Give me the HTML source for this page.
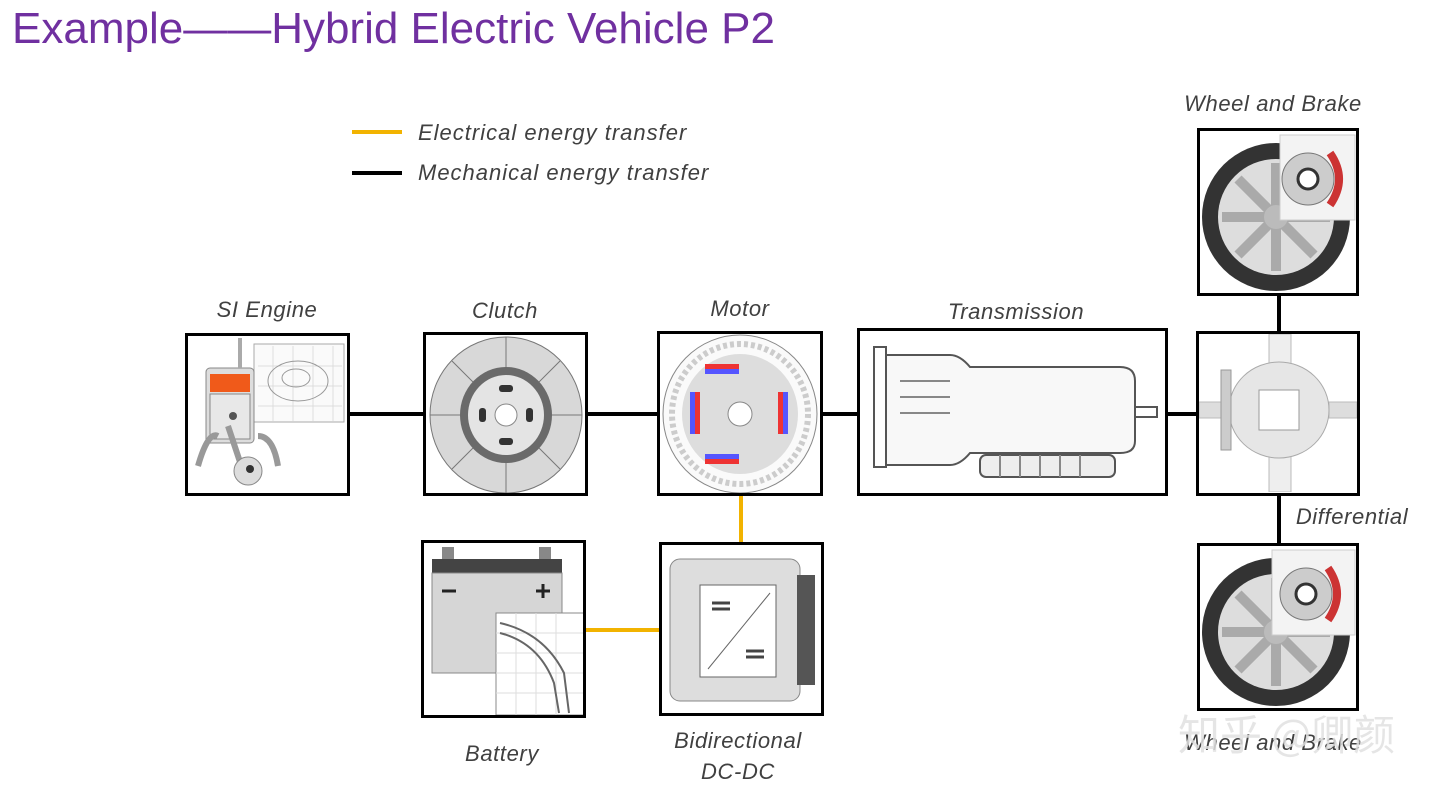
<!DOCTYPE html>
<html><head><meta charset="utf-8"><style>
html,body{margin:0;padding:0;background:#fff;width:1440px;height:789px;overflow:hidden;position:relative}
.t{position:absolute;left:12px;top:4px;font:44px "Liberation Sans",sans-serif;color:#7030a0;white-space:nowrap}
.lbl{position:absolute;font:italic 22px "Liberation Sans",sans-serif;letter-spacing:0.6px;color:#404040;white-space:nowrap;transform:translateX(-50%)}
.box{position:absolute;border:3.5px solid #000;box-sizing:border-box;background:#fff;overflow:hidden}
.ln{position:absolute;background:#000}
.yl{position:absolute;background:#f2b300}
svg{position:absolute;left:0;top:0}
</style></head><body>
<div class="t">Example——Hybrid Electric Vehicle P2</div>
<div class="yl" style="left:352px;top:130px;width:50px;height:4px"></div>
<div class="ln" style="left:352px;top:171px;width:50px;height:4px"></div>
<div class="lbl" style="left:418px;top:120px;transform:none;letter-spacing:1px">Electrical energy transfer</div>
<div class="lbl" style="left:418px;top:160px;transform:none;letter-spacing:1px">Mechanical energy transfer</div>

<!-- connectors -->
<div class="ln" style="left:349px;top:412px;width:75px;height:4px"></div>
<div class="ln" style="left:587px;top:412px;width:71px;height:4px"></div>
<div class="ln" style="left:822px;top:412px;width:36px;height:4px"></div>
<div class="ln" style="left:1167px;top:412px;width:30px;height:4px"></div>
<div class="ln" style="left:1277px;top:295px;width:4px;height:37px"></div>
<div class="ln" style="left:1277px;top:495px;width:4px;height:49px"></div>
<div class="yl" style="left:739px;top:495px;width:4px;height:48px"></div>
<div class="yl" style="left:585px;top:628px;width:75px;height:4px"></div>

<!-- SI engine -->
<div class="box" style="left:185px;top:333px;width:165px;height:163px">
<svg width="160" height="160">
<rect x="66" y="8" width="90" height="78" fill="#fafafa" stroke="#aaa"/>
<path d="M70 30h84M70 50h84M70 70h84M85 10v75M105 10v75M125 10v75M145 10v75" stroke="#ddd"/>
<ellipse cx="110" cy="45" rx="30" ry="20" fill="none" stroke="#999"/>
<ellipse cx="108" cy="42" rx="14" ry="9" fill="none" stroke="#999"/>
<rect x="18" y="32" width="48" height="75" rx="4" fill="#ddd" stroke="#888"/>
<rect x="22" y="38" width="40" height="18" fill="#f05a1a"/>
<rect x="50" y="2" width="4" height="30" fill="#aaa"/>
<rect x="22" y="58" width="40" height="45" fill="#e8e8e8" stroke="#888"/>
<circle cx="45" cy="80" r="4" fill="#555"/>
<path d="M40 90 L55 135 M10 130 Q20 95 30 100 M90 130 Q85 100 70 100" stroke="#999" stroke-width="6" fill="none"/>
<circle cx="60" cy="135" r="14" fill="#ddd" stroke="#888"/><circle cx="62" cy="133" r="4" fill="#333"/>
</svg></div>
<div class="lbl" style="left:267px;top:297px">SI Engine</div>

<!-- Clutch -->
<div class="box" style="left:423px;top:332px;width:165px;height:164px">
<svg width="160" height="160">
<ellipse cx="80" cy="80" rx="76" ry="78" fill="#d8d8d8" stroke="#777"/>
<g stroke="#777"><path d="M80 2v40M80 118v40M4 80h40M116 80h40M26 26l28 28M134 26l-28 28M26 134l28-28M134 134l-28-28"/></g>
<ellipse cx="80" cy="80" rx="46" ry="48" fill="#6a6a6a"/>
<ellipse cx="80" cy="80" rx="38" ry="40" fill="#e4e4e4"/>
<circle cx="80" cy="80" r="11" fill="#fff" stroke="#888"/>
<rect x="73" y="50" width="14" height="7" rx="3" fill="#333"/><rect x="73" y="103" width="14" height="7" rx="3" fill="#333"/>
<rect x="53" y="73" width="7" height="14" rx="3" fill="#333"/><rect x="100" y="73" width="7" height="14" rx="3" fill="#333"/>
</svg></div>
<div class="lbl" style="left:505px;top:298px">Clutch</div>

<!-- Motor -->
<div class="box" style="left:657px;top:331px;width:166px;height:165px">
<svg width="160" height="160">
<ellipse cx="80" cy="80" rx="77" ry="79" fill="#fafafa" stroke="#888"/>
<ellipse cx="80" cy="80" rx="68" ry="70" fill="none" stroke="#ccc" stroke-width="6" stroke-dasharray="4 3"/>
<ellipse cx="80" cy="80" rx="58" ry="60" fill="#ddd"/>
<rect x="45" y="30" width="34" height="5" fill="#e33"/><rect x="45" y="35" width="34" height="5" fill="#55f"/>
<rect x="45" y="120" width="34" height="5" fill="#55f"/><rect x="45" y="125" width="34" height="5" fill="#e33"/>
<rect x="30" y="58" width="5" height="42" fill="#55f"/><rect x="35" y="58" width="5" height="42" fill="#e33"/>
<rect x="118" y="58" width="5" height="42" fill="#e33"/><rect x="123" y="58" width="5" height="42" fill="#55f"/>
<circle cx="80" cy="80" r="12" fill="#fff" stroke="#888"/>
</svg></div>
<div class="lbl" style="left:740px;top:296px">Motor</div>

<!-- Transmission -->
<div class="box" style="left:857px;top:328px;width:311px;height:168px">
<svg width="305" height="162">
<rect x="14" y="16" width="12" height="120" fill="#fff" stroke="#555" stroke-width="2"/>
<path d="M26 24 H90 Q100 24 110 36 H260 Q275 36 275 50 V110 Q275 122 260 122 H110 Q100 134 90 134 H26 Z" fill="#f8f8f8" stroke="#555" stroke-width="2"/>
<rect x="275" y="76" width="22" height="10" fill="#fff" stroke="#555" stroke-width="2"/>
<rect x="120" y="124" width="135" height="22" rx="6" fill="#eee" stroke="#555" stroke-width="2"/>
<path d="M140 124v22M160 124v22M180 124v22M200 124v22M220 124v22M40 50h50M40 66h50M40 82h50" stroke="#888" stroke-width="2"/>
</svg></div>
<div class="lbl" style="left:1016px;top:299px">Transmission</div>

<!-- Differential -->
<div class="box" style="left:1196px;top:331px;width:164px;height:165px">
<svg width="158" height="158">
<rect x="70" y="0" width="22" height="158" fill="#eee" stroke="#bbb"/>
<rect x="0" y="68" width="30" height="16" fill="#ddd" stroke="#bbb"/>
<rect x="130" y="68" width="28" height="16" fill="#ddd" stroke="#bbb"/>
<ellipse cx="80" cy="76" rx="50" ry="48" fill="#e6e6e6" stroke="#aaa"/>
<rect x="60" y="56" width="40" height="40" fill="#fff" stroke="#999"/>
<rect x="22" y="36" width="10" height="80" fill="#ccc" stroke="#999"/>
</svg></div>
<div class="lbl" style="left:1352px;top:504px">Differential</div>

<!-- Wheels -->
<div class="box" style="left:1197px;top:128px;width:162px;height:168px">
<svg width="156" height="162">
<circle cx="76" cy="86" r="74" fill="#333"/><circle cx="76" cy="86" r="58" fill="#ddd"/>
<g stroke="#aaa" stroke-width="10"><path d="M76 32v108M22 86h108M38 48l76 76M114 48l-76 76"/></g>
<circle cx="76" cy="86" r="12" fill="#bbb"/>
<rect x="80" y="4" width="75" height="85" fill="#f3f3f3" stroke="#ccc"/>
<circle cx="108" cy="48" r="26" fill="#ccc" stroke="#777"/><circle cx="108" cy="48" r="10" fill="#fff" stroke="#333" stroke-width="3"/>
<path d="M130 22 Q148 48 130 74" stroke="#c33" stroke-width="8" fill="none"/>
</svg></div>
<div class="lbl" style="left:1273px;top:91px">Wheel and Brake</div>
<div class="box" style="left:1197px;top:543px;width:162px;height:168px">
<svg width="156" height="162">
<circle cx="76" cy="86" r="74" fill="#333"/><circle cx="76" cy="86" r="58" fill="#ddd"/>
<g stroke="#aaa" stroke-width="10"><path d="M76 32v108M22 86h108M38 48l76 76M114 48l-76 76"/></g>
<circle cx="76" cy="86" r="12" fill="#bbb"/>
<rect x="72" y="4" width="83" height="85" fill="#f3f3f3" stroke="#ccc"/>
<circle cx="106" cy="48" r="26" fill="#ccc" stroke="#777"/><circle cx="106" cy="48" r="10" fill="#fff" stroke="#333" stroke-width="3"/>
<path d="M128 22 Q146 48 128 74" stroke="#c33" stroke-width="8" fill="none"/>
</svg></div>
<div class="lbl" style="left:1273px;top:730px">Wheel and Brake</div>

<!-- Battery -->
<div class="box" style="left:421px;top:540px;width:165px;height:178px">
<svg width="160" height="172">
<rect x="8" y="16" width="130" height="14" fill="#444"/>
<rect x="18" y="4" width="12" height="12" fill="#888"/><rect x="115" y="4" width="12" height="12" fill="#888"/>
<rect x="8" y="30" width="130" height="100" fill="#d6d6d6" stroke="#888"/>
<path d="M18 48h14M112 48h14M119 41v14" stroke="#222" stroke-width="3"/>
<rect x="72" y="70" width="88" height="102" fill="#fff" stroke="#888"/>
<path d="M72 90h88M72 110h88M72 130h88M72 150h88M92 70v102M112 70v102M132 70v102" stroke="#ddd"/>
<path d="M76 80 Q120 90 140 130 L145 170 M76 90 Q115 100 130 140 L135 170" stroke="#666" stroke-width="2" fill="none"/>
</svg></div>
<div class="lbl" style="left:502px;top:741px">Battery</div>

<!-- DC-DC -->
<div class="box" style="left:659px;top:542px;width:165px;height:174px">
<svg width="160" height="168">
<rect x="8" y="14" width="130" height="142" rx="10" fill="#ddd" stroke="#888"/>
<rect x="135" y="30" width="18" height="110" fill="#555"/>
<rect x="38" y="40" width="76" height="92" fill="#fff" stroke="#666"/>
<path d="M46 124 L108 48" stroke="#666"/>
<path d="M50 58h18M50 64h18M84 106h18M84 112h18" stroke="#444" stroke-width="3"/>
</svg></div>
<div class="lbl" style="left:738px;top:728px">Bidirectional</div>
<div class="lbl" style="left:738px;top:759px">DC-DC</div>

<div style="position:absolute;left:1178px;top:702px;font:42px 'Noto Sans CJK SC',sans-serif;color:rgba(225,225,225,0.85);white-space:nowrap">知乎 @卿颜</div>
</body></html>
